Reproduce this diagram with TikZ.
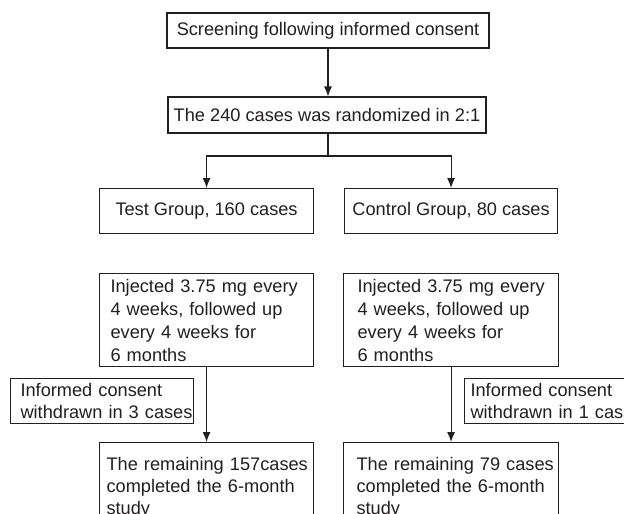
\documentclass[tikz,border=0pt]{standalone}
\usepackage{fontspec}
\setmainfont{Liberation Sans}
\usetikzlibrary{arrows.meta}
\definecolor{ink}{HTML}{231F20}
\begin{document}
\begin{tikzpicture}[x=1pt,y=-1pt,
  box/.style={draw=ink, line width=1.1pt, text=ink, font=\fontsize{18.2}{22}\selectfont, inner sep=0pt},
  tbox/.style={box, anchor=north west, align=left,
    execute at begin node={\hyphenpenalty=10000\exhyphenpenalty=10000\hbadness=10000\hfuzz=50pt\relax}},
  arr/.style={draw=ink, line width=1.1pt, -{Latex[length=10pt,width=8pt]}},
  plain/.style={draw=ink, line width=1.1pt}]
\clip (0,0) rectangle (624,514);
\fill[white] (0,0) rectangle (624,514);
% top boxes
\node[box, minimum width=322pt, minimum height=35pt] (screen) at (328,30.5) {Screening following informed consent};
\node[box, minimum width=318pt, minimum height=36pt] (rand) at (327,115) {The 240 cases was randomized in 2:1};
% groups
\node[box, anchor=north west, minimum width=214pt, minimum height=45pt] (test) at (99,188) {Test Group, 160 cases};
\node[box, anchor=north west, minimum width=213pt, minimum height=45pt] (control) at (344,188) {Control Group, 80 cases};
% injection boxes
\node[tbox, font=\fontsize{18.2}{23}\selectfont, inner xsep=11pt, text width=192pt, minimum height=93pt] (injL) at (99,273)
  {Injected~3.75~mg~every\\4~weeks,~followed~up\\every~4~weeks~for\\6~months};
\node[tbox, font=\fontsize{18.2}{23}\selectfont, inner xsep=14pt, text width=187pt, minimum height=93pt] (injR) at (343,273)
  {Injected~3.75~mg~every\\4~weeks,~followed~up\\every~4~weeks~for\\6~months};
% withdrawn boxes
\node[tbox, inner xsep=10pt, text width=163pt, minimum height=45pt] (wdL) at (10,378)
  {Informed~consent\\withdrawn~in~3~cases};
\node[tbox, inner xsep=6pt, text width=190pt, minimum height=45pt] (wdR) at (464,378)
  {Informed~consent\\withdrawn~in~1~cases};
% remaining boxes (cut off at the bottom)
\node[tbox, inner xsep=7pt, inner ysep=15pt, text width=200pt] (remL) at (99,442)
  {The~remaining~157cases\\completed~the~6-month\\study};
\node[tbox, inner xsep=13pt, inner ysep=15pt, text width=189pt] (remR) at (343,442)
  {The~remaining~79~cases\\completed~the~6-month\\study};
% connectors
\coordinate (split) at (328,156);
\draw[arr] (screen.south) -- (screen.south |- rand.north);
\draw[plain] (split |- rand.south) -- (split);
\draw[arr] (split) -| (test.north);
\draw[arr] (split) -| (control.north);
\draw[arr] (injL.south) -- (injL.south |- remL.north);
\draw[arr] (injR.south) -- (injR.south |- remR.north);
\end{tikzpicture}
\end{document}
